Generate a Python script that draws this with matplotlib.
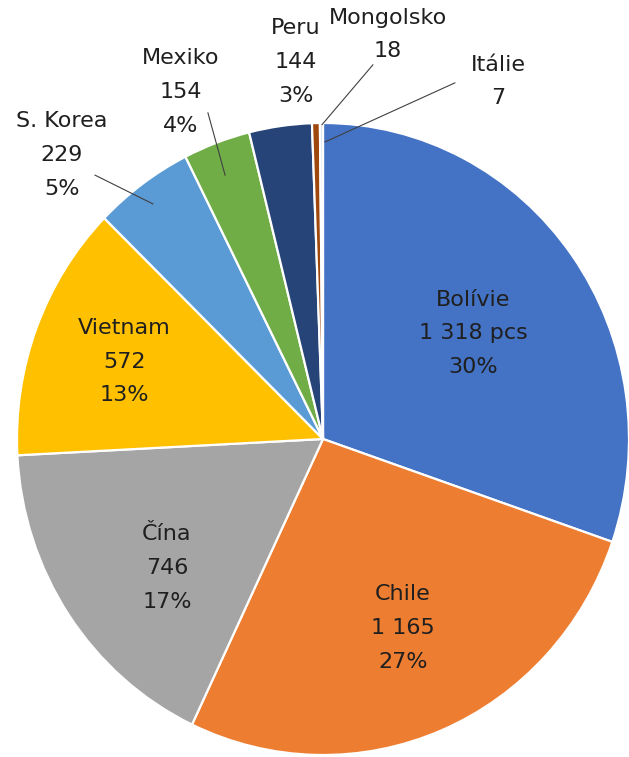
import matplotlib
matplotlib.use("Agg")
import matplotlib.pyplot as plt
import numpy as np

# ---- data ----
countries = ["Bolívie", "Chile", "Čína", "Vietnam", "S. Korea", "Mexiko", "Peru", "Mongolsko", "Itálie"]
values = [1318, 1165, 746, 572, 229, 154, 144, 18, 7]
value_labels = ["1 318 pcs", "1 165", "746", "572", "229", "154", "144", "18", "7"]
show_pct = [True, True, True, True, True, True, True, False, False]

# ---- style / layout ----
colors = ["#4472C4", "#ED7D31", "#A5A5A5", "#FFC000", "#5B9BD5", "#70AD47", "#264478", "#9E480E", "#D9E1EE"]
# label centre positions in data coords (pie radius = 1)
label_pos = [(0.49, 0.335), (0.261, -0.598), (-0.510, -0.408), (-0.650, 0.244),
             (-0.853, 0.899), (-0.464, 1.098), (-0.088, 1.193), (0.212, 1.280), (0.572, 1.131)]
# leader lines: (start, end) or None
leaders = [None, None, None, None,
           ((-0.745, 0.835), (-0.556, 0.744)),
           ((-0.376, 1.032), (-0.320, 0.835)),
           None,
           ((0.163, 1.184), (-0.003, 0.995)),
           ((0.431, 1.127), (0.0065, 0.940))]

W, H = 629, 757
fig = plt.figure(figsize=(W / 100, H / 100), dpi=100)
cx, cy, rx, ry = 323, 439, 306, 316
ax = fig.add_axes([(cx - rx) / W, (H - cy - ry) / H, 2 * rx / W, 2 * ry / H])

ax.pie(values, colors=colors, startangle=90, counterclock=False,
       wedgeprops=dict(edgecolor="white", linewidth=1.6))
ax.set_aspect("auto")
ax.set_xlim(-1, 1)
ax.set_ylim(-1, 1)
ax.set_axis_off()

total = sum(values)
for name, v, vl, sp, pos, ld in zip(countries, values, value_labels, show_pct, label_pos, leaders):
    txt = f"{name}\n{vl}"
    if sp:
        txt += f"\n{round(100 * v / total):.0f}%"
    ax.text(pos[0], pos[1], txt, ha="center", va="center", fontsize=16,
            color="#1f1f1f", linespacing=1.85, family="DejaVu Sans", clip_on=False)
    if ld is not None:
        ax.plot([ld[0][0], ld[1][0]], [ld[0][1], ld[1][1]], color="#404040", lw=0.8,
                clip_on=False)

fig.savefig("out.png", dpi=100)
